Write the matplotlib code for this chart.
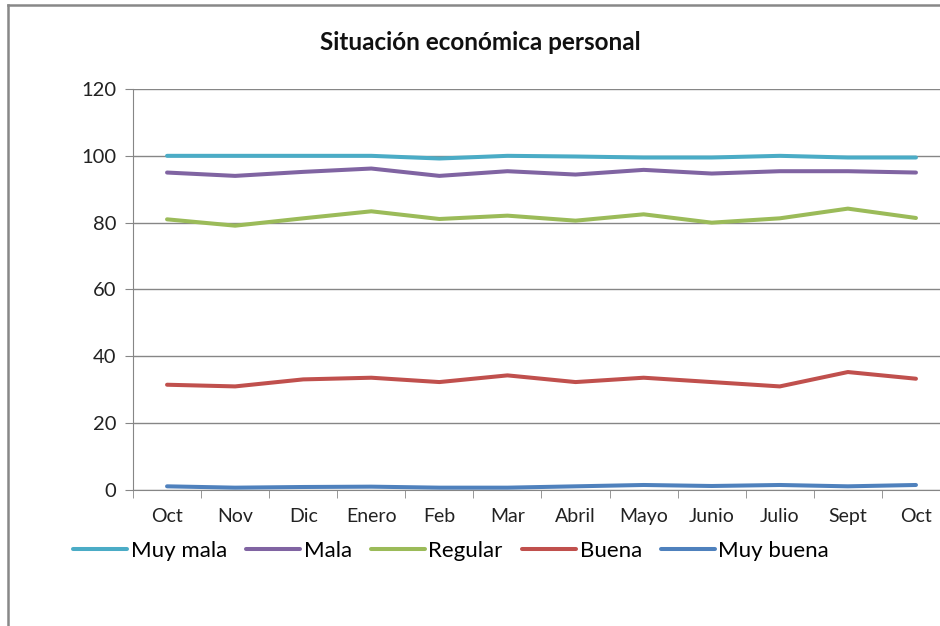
import matplotlib.pyplot as plt
import numpy as np

meses = ['Oct', 'Nov', 'Dic', 'Enero', 'Feb', 'Mar', 'Abril', 'Mayo', 'Junio', 'Julio', 'Sept', 'Oct']
muy_mala = [100, 100, 100, 100, 99.2, 100, 99.8, 99.5, 99.5, 100, 99.5, 99.5]
mala = [95.0, 94.0, 95.2, 96.2, 94.0, 95.4, 94.4, 95.8, 94.7, 95.4, 95.4, 95.0]
regular = [81.0, 79.1, 81.3, 83.4, 81.1, 82.1, 80.6, 82.5, 80.0, 81.3, 84.2, 81.4]
buena = [31.5, 31.0, 33.1, 33.6, 32.3, 34.3, 32.3, 33.6, 32.3, 31.0, 35.3, 33.3]
muy_buena = [1.1, 0.7, 0.9, 1.0, 0.7, 0.7, 1.1, 1.5, 1.2, 1.5, 1.1, 1.5]

series = [('Muy mala', muy_mala, '#4BACC6'),
          ('Mala', mala, '#8064A2'),
          ('Regular', regular, '#9BBB59'),
          ('Buena', buena, '#C0504D'),
          ('Muy buena', muy_buena, '#4F81BD')]

plt.rcParams['font.family'] = ['Lato', 'DejaVu Sans']

fig = plt.figure(figsize=(9.4, 6.26), dpi=100)
ax = fig.add_axes([133/940, 1-490/626, (950-133)/940, (490-89)/626])

x = np.arange(len(meses))
for nombre, vals, col in series:
    ax.plot(x, vals, color=col, lw=2.9, label=nombre, solid_capstyle='round')

ax.set_xlim(-0.5, len(meses)-0.5)
ax.set_ylim(0, 120)
ax.set_yticks(range(0, 121, 20))
ax.yaxis.grid(True, color='#868686', lw=1)
ax.set_axisbelow(True)
ax.set_xticks(x)
ax.set_xticklabels(meses, fontsize=14, color='#222222')
ax.set_xticks(np.arange(-0.5, len(meses), 1), minor=True)
ax.tick_params(axis='x', which='major', length=0, pad=13)
ax.tick_params(axis='x', which='minor', length=6, color='#868686')
ax.tick_params(axis='y', length=6, color='#868686', labelsize=14.5, labelcolor='#222222', pad=6)
for s in ['top', 'right']:
    ax.spines[s].set_visible(False)
for s in ['left', 'bottom']:
    ax.spines[s].set_color('#868686')

fig.text(480/940, 1-42/626, 'Situación económica personal', ha='center', va='center',
         fontsize=17.5, fontweight='bold', color='#111111')

fig.legend(loc='center left', bbox_to_anchor=(73/940, 1-551/626), ncol=5, frameon=False,
           fontsize=16, handlelength=2.45, handletextpad=0.15, columnspacing=0.85,
           borderaxespad=0, borderpad=0)

# marco del gráfico
fig.add_artist(plt.Line2D([8/940, 1], [1-5/626, 1-5/626], color='#888888', lw=1.8))
fig.add_artist(plt.Line2D([8/940, 8/940], [0, 1-5/626], color='#888888', lw=1.8))

fig.savefig('out.png', dpi=100)
